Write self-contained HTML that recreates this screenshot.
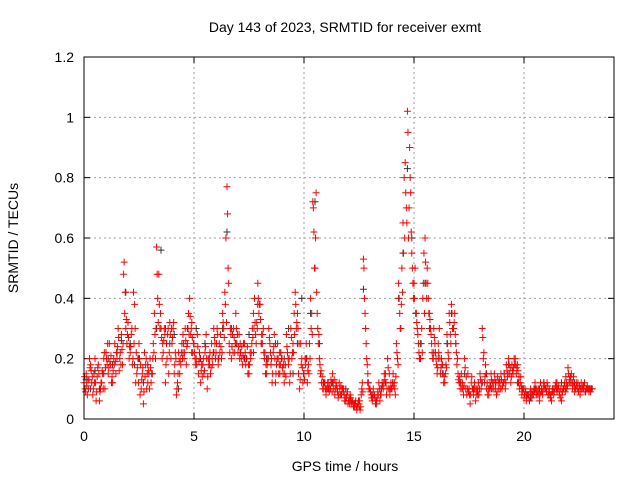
<!DOCTYPE html>
<html><head><meta charset="utf-8"><style>
body{margin:0;background:#fff}
svg{display:block;font-family:"Liberation Sans",sans-serif}
</style></head><body>
<svg id="chart" width="640" height="480">
<text x="345" y="32" text-anchor="middle" font-size="14">Day 143 of 2023, SRMTID for receiver exmt</text>
<text x="345" y="471" text-anchor="middle" font-size="14">GPS time / hours</text>
<text transform="translate(18,238) rotate(-90)" text-anchor="middle" font-size="14">SRMTID / TECUs</text>
<g id="grid"></g>
<g id="black"></g>
<g id="red"></g>
<rect x="84" y="57" width="530" height="362" fill="none" stroke="#000"/>
</svg>
<script>
const xTicks=[0,5,10,15,20];
const yTicks=[0,0.2,0.4,0.6,0.8,1,1.2];
const yTickLabels=["0","0.2","0.4","0.6","0.8","1","1.2"];
const redA=[0.12,0.15,0.1,0.18,0.08,0.2,0.14,0.06,0.12,0.2,
0.22,0.15,0.18,0.12,0.25,0.2,0.16,0.28,0.48,0.3,
0.32,0.22,0.18,0.38,0.15,0.25,0.1,0.05,0.18,0.12,
0.2,0.15,0.35,0.57,0.48,0.3,0.22,0.12,0.28,0.32,
0.25,0.15,0.08,0.22,0.18,0.28,0.3,0.25,0.4,0.32,
0.25,0.2,0.15,0.12,0.18,0.22,0.1,0.2,0.25,0.3,
0.22,0.18,0.28,0.35,0.42,0.77,0.25,0.2,0.3,0.35,
0.22,0.25,0.18,0.25,0.2,0.15,0.22,0.35,0.28,0.45,
0.38,0.25,0.2,0.15,0.3,0.18,0.22,0.12,0.25,0.15,
0.2,0.12,0.28,0.18,0.3,0.25,0.42,0.35,0.1,0.2,
0.15,0.25,0.18,0.4,0.72,0.5,0.35,0.2,0.12,0.1,
0.08,0.12,0.1,0.15,0.08,0.1,0.12,0.08,0.1,0.06,
0.05,0.08,0.06,0.04,0.03,0.05,0.08,0.53,0.3,0.15,
0.1,0.06,0.08,0.05,0.12,0.08,0.1,0.15,0.2,0.08,
0.1,0.12,0.25,0.45,0.3,0.65,0.85,1.02,0.9,0.55,
0.45,0.35,0.25,0.2,0.4,0.6,0.5,0.35,0.25,0.3,
0.2,0.25,0.15,0.18,0.12,0.28,0.35,0.38,0.3,0.25,
0.15,0.1,0.12,0.2,0.08,0.1,0.12,0.08,0.06,0.1,
0.15,0.3,0.12,0.1,0.08,0.15,0.12,0.1,0.14,0.12,
0.1,0.15,0.18,0.2,0.12,0.15,0.2,0.18,0.1,0.08,
0.07,0.06,0.08,0.1,0.09,0.12,0.08,0.06,0.1,0.12,
0.1,0.08,0.07,0.09,0.1,0.12,0.08,0.06,0.1,0.14,
0.17,0.12,0.1,0.09,0.11,0.1,0.12,0.1,0.09,0.1,0.1];
const redB=[0.1,0.08,0.2,0.12,0.15,0.06,0.18,0.1,0.15,0.1,
0.18,0.25,0.12,0.2,0.15,0.3,0.22,0.18,0.35,0.25,
0.2,0.28,0.42,0.12,0.2,0.08,0.15,0.22,0.1,0.15,
0.12,0.25,0.2,0.4,0.3,0.2,0.3,0.25,0.15,0.2,
0.3,0.22,0.12,0.15,0.25,0.2,0.18,0.35,0.28,0.22,
0.2,0.28,0.22,0.18,0.15,0.28,0.2,0.15,0.18,0.25,
0.3,0.25,0.2,0.3,0.6,0.5,0.3,0.28,0.22,0.25,
0.28,0.2,0.25,0.18,0.15,0.22,0.3,0.4,0.32,0.35,
0.25,0.3,0.15,0.2,0.25,0.12,0.28,0.18,0.15,0.22,
0.15,0.18,0.22,0.12,0.2,0.35,0.3,0.15,0.25,0.12,
0.2,0.12,0.25,0.35,0.62,0.75,0.25,0.15,0.1,0.12,
0.1,0.09,0.12,0.1,0.12,0.07,0.08,0.1,0.06,0.08,
0.07,0.05,0.04,0.06,0.05,0.03,0.12,0.4,0.2,0.1,
0.08,0.1,0.05,0.09,0.06,0.12,0.15,0.08,0.1,0.12,
0.15,0.08,0.2,0.35,0.5,0.8,0.7,0.6,0.75,0.45,
0.5,0.3,0.2,0.3,0.55,0.45,0.4,0.3,0.2,0.25,
0.15,0.3,0.2,0.12,0.18,0.22,0.28,0.3,0.35,0.18,
0.12,0.15,0.08,0.1,0.15,0.05,0.1,0.12,0.1,0.08,
0.1,0.2,0.18,0.08,0.12,0.1,0.15,0.08,0.1,0.15,
0.12,0.1,0.14,0.15,0.18,0.2,0.15,0.12,0.14,0.1,
0.1,0.08,0.06,0.07,0.1,0.08,0.1,0.12,0.08,0.1,
0.12,0.1,0.06,0.08,0.12,0.1,0.07,0.09,0.12,0.1,
0.12,0.15,0.14,0.1,0.12,0.08,0.1,0.12,0.1,0.09,0.1];
const redC=[0.14,0.11,0.13,0.16,0.1,0.12,0.17,0.09,0.16,0.22,
0.2,0.17,0.21,0.16,0.19,0.24,0.2,0.23,0.52,0.33,
0.27,0.24,0.2,0.3,0.17,0.2,0.13,0.09,0.2,0.16,
0.17,0.2,0.28,0.48,0.38,0.27,0.26,0.18,0.3,0.28,
0.27,0.18,0.1,0.19,0.22,0.25,0.26,0.3,0.34,0.27,
0.22,0.18,0.19,0.16,0.2,0.24,0.14,0.22,0.2,0.27,
0.25,0.2,0.24,0.32,0.38,0.68,0.22,0.24,0.27,0.3,
0.24,0.22,0.21,0.22,0.24,0.18,0.25,0.3,0.25,0.4,
0.33,0.28,0.22,0.18,0.27,0.2,0.24,0.15,0.2,0.18,
0.17,0.15,0.24,0.2,0.27,0.22,0.38,0.3,0.13,0.17,
0.13,0.2,0.15,0.3,0.7,0.6,0.3,0.18,0.14,0.12,
0.1,0.1,0.13,0.12,0.1,0.09,0.1,0.1,0.08,0.07,
0.06,0.07,0.05,0.05,0.04,0.06,0.1,0.5,0.25,0.12,
0.09,0.07,0.07,0.07,0.1,0.1,0.12,0.12,0.17,0.1,
0.12,0.1,0.22,0.4,0.38,0.55,0.75,0.95,0.8,0.5,
0.4,0.32,0.22,0.25,0.45,0.52,0.45,0.33,0.22,0.27,
0.18,0.22,0.17,0.15,0.15,0.25,0.32,0.35,0.32,0.22,
0.13,0.12,0.1,0.17,0.1,0.08,0.14,0.1,0.08,0.12,
0.13,0.27,0.14,0.12,0.1,0.13,0.1,0.12,0.12,0.1,
0.11,0.13,0.16,0.18,0.14,0.17,0.18,0.16,0.12,0.09,
0.08,0.07,0.07,0.09,0.08,0.1,0.09,0.08,0.09,0.11,
0.09,0.09,0.08,0.1,0.11,0.1,0.09,0.08,0.11,0.12,
0.15,0.14,0.12,0.1,0.1,0.11,0.1,0.11,0.1,0.1,0.09];
const redD=[0.09,0.13,0.17,0.14,0.12,0.09,0.15,0.12,0.1,0.17,
0.25,0.19,0.14,0.18,0.22,0.27,0.18,0.25,0.42,0.28,
0.24,0.3,0.25,0.22,0.12,0.18,0.17,0.14,0.15,0.1,
0.15,0.22,0.3,0.32,0.35,0.25,0.28,0.2,0.22,0.3,
0.32,0.2,0.15,0.2,0.2,0.22,0.24,0.28,0.3,0.25,
0.18,0.24,0.2,0.14,0.16,0.2,0.18,0.17,0.22,0.2,
0.28,0.22,0.22,0.27,0.32,0.45,0.28,0.22,0.25,0.28,
0.2,0.24,0.2,0.2,0.18,0.2,0.27,0.32,0.3,0.38,
0.28,0.22,0.18,0.2,0.22,0.15,0.2,0.2,0.18,0.2,
0.18,0.14,0.2,0.15,0.22,0.28,0.32,0.25,0.18,0.15,
0.18,0.16,0.2,0.28,0.5,0.42,0.28,0.16,0.12,0.1,
0.12,0.11,0.09,0.13,0.11,0.08,0.11,0.09,0.07,0.09,
0.05,0.06,0.05,0.04,0.06,0.04,0.09,0.35,0.18,0.1,
0.07,0.08,0.06,0.08,0.08,0.11,0.13,0.1,0.15,0.1,
0.11,0.14,0.18,0.3,0.42,0.6,0.65,0.7,0.62,0.4,
0.35,0.28,0.2,0.22,0.35,0.4,0.35,0.28,0.2,0.22,
0.17,0.2,0.18,0.14,0.17,0.2,0.25,0.3,0.28,0.2,
0.14,0.1,0.11,0.14,0.09,0.08,0.1,0.1,0.09,0.1,
0.12,0.22,0.15,0.1,0.11,0.12,0.13,0.09,0.13,0.13,
0.12,0.12,0.15,0.17,0.16,0.18,0.17,0.14,0.11,0.1,
0.09,0.08,0.09,0.08,0.09,0.1,0.08,0.09,0.1,0.1,
0.11,0.08,0.09,0.09,0.1,0.11,0.1,0.1,0.09,0.11,
0.13,0.12,0.11,0.12,0.09,0.1,0.11,0.09,0.11,0.1,0.1];
const black=[0.13,0.1,0.16,0.1,0.15,0.2,0.18,0.22,0.26,0.42,
0.25,0.18,0.2,0.12,0.18,0.15,0.3,0.56,0.3,0.25,
0.28,0.1,0.22,0.3,0.22,0.3,0.2,0.25,0.18,0.22,
0.2,0.3,0.62,0.3,0.25,0.22,0.2,0.28,0.22,0.38,
0.25,0.2,0.18,0.25,0.22,0.2,0.3,0.15,0.25,0.4,
0.2,0.35,0.72,0.25,0.12,0.1,0.12,0.1,0.08,0.1,
0.06,0.05,0.04,0.43,0.12,0.08,0.06,0.1,0.12,0.1,
0.12,0.4,0.55,0.83,0.6,0.35,0.25,0.45,0.3,0.22,
0.2,0.15,0.25,0.35,0.25,0.12,0.15,0.1,0.1,0.08,
0.12,0.15,0.1,0.12,0.12,0.15,0.18,0.15,0.12,0.1,
0.08,0.07,0.1,0.1,0.12,0.08,0.1,0.09,0.12,0.1,
0.14,0.12,0.1,0.11,0.1,0.1];
const x0=84,x1=614,y0=419,y1=57,xMax=24.09,yMax=1.2;
const X=t=>x0+t/xMax*(x1-x0);
const Y=v=>y0-v/yMax*(y0-y1);
const NS="http://www.w3.org/2000/svg";
function mk(tag,attrs,parent){const e=document.createElementNS(NS,tag);for(const k in attrs)e.setAttribute(k,attrs[k]);parent.appendChild(e);return e;}
const svg=document.getElementById('chart'),grid=document.getElementById('grid');
xTicks.forEach(t=>{
 const l=mk('line',{x1:X(t),x2:X(t),y1:y0,y2:y1,stroke:'#a0a0a0','stroke-dasharray':'2,3'},grid);
 
 
 mk('line',{x1:X(t),x2:X(t),y1:y0,y2:y0-6,stroke:'#000'},grid);
 mk('line',{x1:X(t),x2:X(t),y1:y1,y2:y1+6,stroke:'#000'},grid);
 const tx=mk('text',{x:X(t),y:y0+22,'text-anchor':'middle','font-size':14},svg);
 tx.textContent=String(t);
 
 
});
yTicks.forEach((v,i)=>{
 const l=mk('line',{x1:x0,x2:x1,y1:Y(v),y2:Y(v),stroke:'#a0a0a0','stroke-dasharray':'2,3'},grid);
 
 
 mk('line',{x1:x0,x2:x0+6,y1:Y(v),y2:Y(v),stroke:'#000'},grid);
 mk('line',{x1:x1,x2:x1-6,y1:Y(v),y2:Y(v),stroke:'#000'},grid);
 const tx=mk('text',{x:x0-10,y:Y(v)+5,'text-anchor':'end','font-size':14},svg);
 tx.textContent=yTickLabels[i];
 
 
});
function plus(g,t,v,c){
 const p=mk('path',{d:`M${X(t)-3.5},${Y(v)}h7M${X(t)},${Y(v)-3.5}v7`,stroke:c,'stroke-width':1,fill:'none'},g);
 
 
}
const gb=document.getElementById('black'),gr=document.getElementById('red');
black.forEach((v,i)=>plus(gb,0.1+i*0.2,v,'#333'));
redA.forEach((v,i)=>plus(gr,i*0.1,v,'#f00'));
redB.forEach((v,i)=>plus(gr,i*0.1+0.05,v,'#f00'));
redC.forEach((v,i)=>plus(gr,i*0.1+0.025,v,'#f00'));
redD.forEach((v,i)=>plus(gr,i*0.1+0.075,v,'#f00'));
</script>
</body></html>
